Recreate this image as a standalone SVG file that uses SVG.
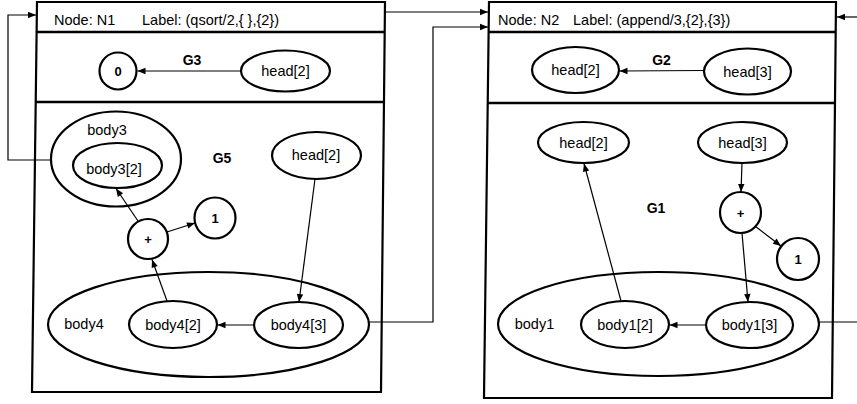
<svg xmlns="http://www.w3.org/2000/svg" width="857" height="404" viewBox="0 0 857 404">
<style>
text{font-family:"Liberation Sans",Arial,sans-serif;font-size:14.5px;fill:#000}
.b{font-weight:bold;font-size:14px}
.s{font-size:13px;font-weight:bold}
.box{fill:none;stroke:#000;stroke-width:2.2}
.div{stroke:#000;stroke-width:2.5}
.n{fill:#fff;stroke:#000;stroke-width:2.2}
.no{fill:none;stroke:#000;stroke-width:2.2}
.c{fill:none;stroke:#000;stroke-width:1.2}
.a{fill:none;stroke:#000;stroke-width:1.2;marker-end:url(#ah)}
</style>
<defs>
<marker id="ah" viewBox="0 0 10 10" refX="10" refY="5" markerWidth="9" markerHeight="8" markerUnits="userSpaceOnUse" orient="auto">
<path d="M0,1 L10,5 L0,9 z" fill="#000"/>
</marker>
</defs>
<rect width="857" height="404" fill="#fff"/>

<g id="N1">
<path class="box" d="M37,2 L385,2 L381,392 L32,392 Z"/>
<line class="div" x1="36" y1="32" x2="385" y2="32"/>
<line class="div" x1="35" y1="102" x2="384" y2="102"/>
<text x="54" y="25">Node: N1</text>
<text x="142" y="25">Label: (qsort/2,{ },{2})</text>
</g>

<g id="N2">
<path class="box" d="M489,2 L836,2 L832,398 L484,398 Z"/>
<line class="div" x1="488" y1="32" x2="836" y2="32"/>
<line class="div" x1="488" y1="103" x2="835" y2="103"/>
<text x="498" y="25">Node: N2</text>
<text x="573" y="25">Label: (append/3,{2},{3})</text>
</g>

<g id="G3">
<text class="b" x="192" y="65" text-anchor="middle">G3</text>
</g>
<g id="G3_0"><circle class="n" cx="118" cy="71" r="18.5"/><text class="s" x="118" y="76" text-anchor="middle">0</text></g>
<g id="G3_head2"><ellipse class="n" cx="285.5" cy="71" rx="44.5" ry="20.5"/><text x="285.5" y="76" text-anchor="middle">head[2]</text></g>

<g id="G5"><text class="b" x="222" y="163" text-anchor="middle">G5</text></g>
<g id="body3"><ellipse class="no" cx="116" cy="159" rx="65" ry="47.5"/><text x="107" y="135" text-anchor="middle">body3</text></g>
<g id="body3_2"><ellipse class="n" cx="117.5" cy="165.5" rx="44.5" ry="22.5"/><text x="114" y="174" text-anchor="middle">body3[2]</text></g>
<g id="G5_head2"><ellipse class="n" cx="316.5" cy="155.5" rx="44.5" ry="23.5"/><text x="316" y="160" text-anchor="middle">head[2]</text></g>
<g id="G5_one"><circle class="n" cx="215" cy="218" r="20.5"/><text class="s" x="215" y="223" text-anchor="middle">1</text></g>
<g id="G5_plus"><circle class="n" cx="148" cy="239" r="20"/><text class="s" x="148" y="244" text-anchor="middle">+</text></g>
<g id="body4"><ellipse class="no" cx="208.5" cy="324.5" rx="160.5" ry="52.5"/><text x="84" y="329" text-anchor="middle">body4</text></g>
<g id="body4_2"><ellipse class="n" cx="173" cy="324.5" rx="44" ry="23.5"/><text x="173" y="330" text-anchor="middle">body4[2]</text></g>
<g id="body4_3"><ellipse class="n" cx="298.5" cy="325" rx="44.5" ry="23"/><text x="298.5" y="330" text-anchor="middle">body4[3]</text></g>

<g id="G2"><text class="b" x="661.5" y="65" text-anchor="middle">G2</text></g>
<g id="G2_head2"><ellipse class="n" cx="575.5" cy="70" rx="43.5" ry="23"/><text x="575.5" y="75" text-anchor="middle">head[2]</text></g>
<g id="G2_head3"><ellipse class="n" cx="747.5" cy="71.5" rx="43.5" ry="23"/><text x="747.5" y="77" text-anchor="middle">head[3]</text></g>

<g id="G1"><text class="b" x="656" y="213" text-anchor="middle">G1</text></g>
<g id="G1_head2"><ellipse class="n" cx="583.5" cy="142.5" rx="45.5" ry="20.5"/><text x="583.5" y="148" text-anchor="middle">head[2]</text></g>
<g id="G1_head3"><ellipse class="n" cx="742.5" cy="142.5" rx="44.5" ry="20.5"/><text x="742.5" y="148" text-anchor="middle">head[3]</text></g>
<g id="G1_plus"><circle class="n" cx="740.5" cy="212.5" r="20.5"/><text class="s" x="740.5" y="217.5" text-anchor="middle">+</text></g>
<g id="G1_one"><circle class="n" cx="798" cy="259" r="21"/><text class="s" x="798" y="264" text-anchor="middle">1</text></g>
<g id="body1"><ellipse class="no" cx="658.5" cy="324" rx="160.5" ry="52"/><text x="534.5" y="329" text-anchor="middle">body1</text></g>
<g id="body1_2"><ellipse class="n" cx="625" cy="324.5" rx="44" ry="23.5"/><text x="625" y="330" text-anchor="middle">body1[2]</text></g>
<g id="body1_3"><ellipse class="n" cx="749.5" cy="325" rx="43.5" ry="23"/><text x="749.5" y="330" text-anchor="middle">body1[3]</text></g>

<g id="connectors">
<line class="a" x1="241" y1="71" x2="137.5" y2="71"/>
<line class="a" x1="138" y1="221" x2="116" y2="188.5"/>
<line class="a" x1="167" y1="232" x2="195" y2="223"/>
<line class="a" x1="315" y1="179" x2="299" y2="302"/>
<line class="a" x1="254" y1="325" x2="217.5" y2="325"/>
<line class="a" x1="167" y1="301" x2="152" y2="259.5"/>
<line class="a" x1="704" y1="70.5" x2="619.5" y2="71"/>
<line class="a" x1="742" y1="163" x2="741" y2="192"/>
<line class="a" x1="755" y1="226" x2="781" y2="246"/>
<line class="a" x1="742" y1="233" x2="748" y2="302"/>
<line class="a" x1="706" y1="325" x2="669.5" y2="325"/>
<line class="a" x1="621" y1="301" x2="584" y2="163.5"/>
<polyline class="a" points="51,160 8,160 8,15 36,15"/>
<line class="a" x1="386" y1="12" x2="488" y2="12"/>
<polyline class="a" points="369,322 433,322 433,27 488,27"/>
<line class="a" x1="857" y1="17" x2="837" y2="17"/>
<line class="c" x1="819" y1="322" x2="857" y2="322"/>
</g>
</svg>
